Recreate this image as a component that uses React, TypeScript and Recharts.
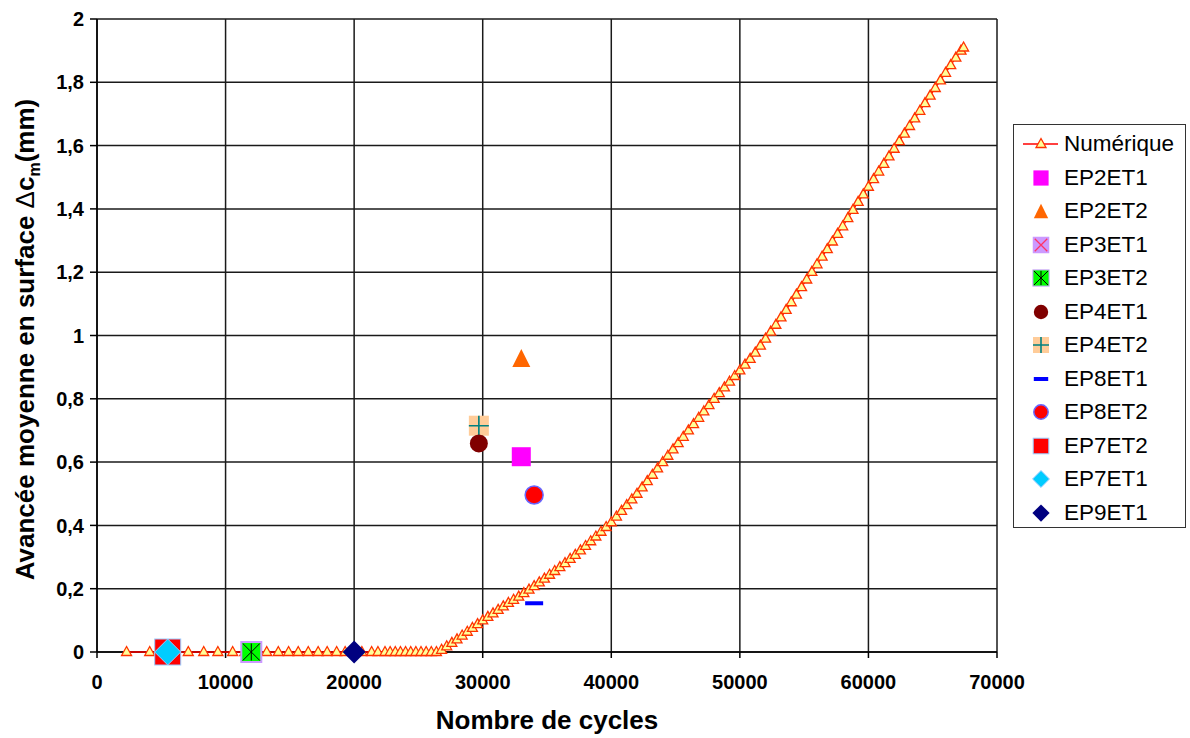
import React from 'react';
import { ScatterChart, Scatter, XAxis, YAxis, CartesianGrid, Legend } from 'recharts';

const FONT = '"Liberation Sans", Arial, Helvetica, sans-serif';

// Numerical simulation curve (cycles, mean surface advance in mm)
const numCycles = [
  2300, 4100, 5600, 7100, 8300, 9400, 10550, 11500, 12300, 13200, 14100, 14900, 15650, 16430, 17200, 17900,
  18640, 19300, 19950, 20600, 21360, 21850, 22400, 22800, 23200, 23600, 24000, 24400, 24800, 25200, 25600,
  26000, 26400,
  26800, 27200, 27600, 28000, 28400, 28800, 29200, 29600, 30000, 30400, 30800, 31200, 31600, 32000, 32400,
  32800, 33200, 33600, 34000, 34400, 34800, 35200, 35600, 36000, 36400, 36800, 37200, 37600, 38000, 38400,
  38800, 39200, 39600, 40000, 40400, 40800, 41200, 41600, 42000, 42400, 42800, 43200, 43600, 44000, 44400,
  44800, 45200, 45600, 46000, 46400, 46800, 47200, 47600, 48000, 48400, 48800, 49200, 49600, 50000, 50400,
  50800, 51200, 51600, 52000, 52400, 52800, 53200, 53600, 54000, 54400, 54800, 55200, 55600, 56000, 56400,
  56800, 57200, 57600, 58000, 58400, 58800, 59200, 59600, 60000, 60400, 60800, 61200, 61600, 62000, 62400,
  62800, 63200, 63600, 64000, 64400, 64800, 65200, 65600, 66000, 66400, 66800, 67200, 67400,
];
const numAdvance = [
  0, 0, 0, 0, 0, 0, 0, 0, 0, 0, 0, 0, 0, 0, 0, 0,
  0, 0, 0, 0, 0, 0, 0, 0, 0, 0, 0, 0, 0, 0, 0,
  0, 0,
  0.007, 0.018, 0.029, 0.04, 0.052, 0.064, 0.076, 0.088, 0.1, 0.111, 0.122, 0.133, 0.144, 0.155, 0.165,
  0.175, 0.186, 0.197, 0.208, 0.22, 0.232, 0.244, 0.256, 0.268, 0.281, 0.294, 0.307, 0.321, 0.335, 0.35,
  0.365, 0.38, 0.395, 0.41, 0.428, 0.446, 0.464, 0.482, 0.5, 0.52, 0.54, 0.56, 0.58, 0.6, 0.62,
  0.64, 0.66, 0.68, 0.7, 0.72, 0.74, 0.76, 0.78, 0.8, 0.818, 0.836, 0.854, 0.872, 0.89, 0.908,
  0.926, 0.946, 0.968, 0.99, 1.012, 1.034, 1.057, 1.081, 1.105, 1.129, 1.153, 1.177, 1.201, 1.225, 1.249,
  1.273, 1.297, 1.321, 1.345, 1.371, 1.397, 1.422, 1.446, 1.47, 1.494, 1.518, 1.542, 1.566, 1.59, 1.614,
  1.638, 1.662, 1.686, 1.71, 1.734, 1.758, 1.782, 1.806, 1.83, 1.854, 1.878, 1.9, 1.91,
];

// Experimental points
const ep2et1 = [{ x: 33000, y: 0.617 }];
const ep2et2 = [{ x: 33000, y: 0.929 }];
const ep3et1 = [{ x: 12000, y: 0 }];
const ep3et2 = [{ x: 12000, y: 0 }];
const ep4et1 = [{ x: 29700, y: 0.659 }];
const ep4et2 = [{ x: 29700, y: 0.715 }];
const ep8et1 = [{ x: 34000, y: 0.154 }];
const ep8et2 = [{ x: 34000, y: 0.496 }];
const ep7et2 = [{ x: 5500, y: 0 }];
const ep7et1 = [{ x: 5500, y: 0 }];
const ep9et1 = [{ x: 20000, y: 0 }];

const xTicks = [0, 10000, 20000, 30000, 40000, 50000, 60000, 70000];
const yTicks = [0, 0.2, 0.4, 0.6, 0.8, 1, 1.2, 1.4, 1.6, 1.8, 2];

const seriesNames = ['Numérique', 'EP2ET1', 'EP2ET2', 'EP3ET1', 'EP3ET2', 'EP4ET1', 'EP4ET2', 'EP8ET1', 'EP8ET2', 'EP7ET2', 'EP7ET1', 'EP9ET1'];

const numData = numCycles.map((c, i) => ({ x: c, y: numAdvance[i] }));

// ---------- marker shapes ----------
type P = { cx: number; cy: number; s?: number };

const Tri = ({ cx, cy }: P) => (
  <polygon points={`${cx},${cy - 5.5} ${cx + 5},${cy + 3.5} ${cx - 5},${cy + 3.5}`} fill="#ffff99" stroke="#ff3300" strokeWidth={1.3} />
);
const Sq = ({ cx, cy, s = 18, fill, stroke }: P & { fill: string; stroke?: string }) => (
  <rect x={cx - s / 2} y={cy - s / 2} width={s} height={s} fill={fill} stroke={stroke || 'none'} strokeWidth={1} />
);
const BigTri = ({ cx, cy, s = 18 }: P) => (
  <polygon points={`${cx},${cy - s / 2} ${cx + s / 2},${cy + s / 2} ${cx - s / 2},${cy + s / 2}`} fill="#ff6600" />
);
const XSq = ({ cx, cy, s = 22 }: P) => {
  const h = s / 2;
  return (
    <g>
      <rect x={cx - h} y={cy - h} width={s} height={s} fill="#cc99ff" />
      <path d={`M${cx - h + 2},${cy - h + 2}L${cx + h - 2},${cy + h - 2}M${cx + h - 2},${cy - h + 2}L${cx - h + 2},${cy + h - 2}`} stroke="#ff3366" strokeWidth={1.3} />
    </g>
  );
};
const StarSq = ({ cx, cy, s = 19 }: P) => {
  const h = s / 2;
  return (
    <g>
      <rect x={cx - h} y={cy - h} width={s} height={s} fill="#00ff00" stroke="#cc99ff" strokeWidth={1} />
      <path d={`M${cx - h + 1},${cy - h + 1}L${cx + h - 1},${cy + h - 1}M${cx + h - 1},${cy - h + 1}L${cx - h + 1},${cy + h - 1}M${cx},${cy - h + 1}L${cx},${cy + h - 1}`} stroke="#000" strokeWidth={1} />
    </g>
  );
};
const Circ = ({ cx, cy, s = 18, fill, stroke }: P & { fill: string; stroke?: string }) => (
  <circle cx={cx} cy={cy} r={s / 2} fill={fill} stroke={stroke || 'none'} strokeWidth={1.5} />
);
const PlusSq = ({ cx, cy, s = 20 }: P) => {
  const h = s / 2;
  return (
    <g>
      <rect x={cx - h} y={cy - h} width={s} height={s} fill="#ffcc99" />
      <path d={`M${cx - h},${cy}L${cx + h},${cy}M${cx},${cy - h}L${cx},${cy + h}`} stroke="#008080" strokeWidth={1.6} />
    </g>
  );
};
const Dash = ({ cx, cy, s = 18 }: P) => <rect x={cx - s / 2} y={cy - 2} width={s} height={4} fill="#0000ff" />;
const Diam = ({ cx, cy, s = 22, fill, stroke }: P & { fill: string; stroke?: string }) => {
  const h = s / 2;
  return <polygon points={`${cx},${cy - h} ${cx + h},${cy} ${cx},${cy + h} ${cx - h},${cy}`} fill={fill} stroke={stroke || 'none'} strokeWidth={1} />;
};

const markerFor = (name: string, cx: number, cy: number, legend = false) => {
  const k = legend ? 0.8 : 1;
  switch (name) {
    case 'Numérique':
      return <Tri cx={cx} cy={cy} />;
    case 'EP2ET1':
      return <Sq cx={cx} cy={cy} s={19 * k} fill="#ff00ff" />;
    case 'EP2ET2':
      return <BigTri cx={cx} cy={cy} s={18 * k} />;
    case 'EP3ET1':
      return <XSq cx={cx} cy={cy} s={22 * (legend ? 0.75 : 1)} />;
    case 'EP3ET2':
      return <StarSq cx={cx} cy={cy} s={19 * (legend ? 0.85 : 1)} />;
    case 'EP4ET1':
      return <Circ cx={cx} cy={cy} s={18 * k} fill="#800000" />;
    case 'EP4ET2':
      return <PlusSq cx={cx} cy={cy} s={20 * k} />;
    case 'EP8ET1':
      return <Dash cx={cx} cy={cy} s={18 * k} />;
    case 'EP8ET2':
      return <Circ cx={cx} cy={cy} s={18 * k} fill="#ff0000" stroke="#6666ff" />;
    case 'EP7ET2':
      return <Sq cx={cx} cy={cy} s={26 * (legend ? 0.6 : 1)} fill="#ff0000" stroke="#99ccff" />;
    case 'EP7ET1':
      return <Diam cx={cx} cy={cy} s={26 * (legend ? 0.65 : 1)} fill="#00ccff" stroke="#99ccff" />;
    case 'EP9ET1':
      return <Diam cx={cx} cy={cy} s={23 * (legend ? 0.75 : 1)} fill="#000080" />;
    default:
      return null;
  }
};

const shapeOf = (name: string) => (p: any) => markerFor(name, p.cx, p.cy);

// ---------- legend ----------
const LegendBox = () => (
  <div
    style={{
      width: 173,
      height: 404,
      boxSizing: 'border-box',
      border: '1.5px solid #333',
      background: '#fff',
      position: 'relative',
      fontFamily: FONT,
    }}
  >
    {seriesNames.map((n, i) => {
      const cy = 19 + i * 33.5;
      return (
        <div key={n} style={{ position: 'absolute', left: 0, top: cy - 16, height: 32, width: 172, display: 'flex', alignItems: 'center' }}>
          <svg width={50} height={32} style={{ display: 'block' }}>
            {n === 'Numérique' ? <line x1={9} y1={16} x2={44} y2={16} stroke="#ff0000" strokeWidth={1.3} /> : null}
            {markerFor(n, 27, 16, true)}
          </svg>
          <span style={{ fontSize: 22.5, color: '#000', whiteSpace: 'nowrap', lineHeight: '32px' }}>{n}</span>
        </div>
      );
    })}
  </div>
);

// ---------- titles ----------
const XTitle = (props: any) => {
  const vb = props.viewBox || { x: 97, width: 900, y: 652, height: 0 };
  return (
    <text x={vb.x + vb.width / 2} y={729} textAnchor="middle" fontFamily={FONT} fontWeight="bold" fontSize={26} fill="#000">
      Nombre de cycles
    </text>
  );
};
const YTitle = (props: any) => {
  const vb = props.viewBox || { x: 0, y: 19, width: 97, height: 633 };
  const cy = vb.y + vb.height / 2 + 4;
  const x = 34;
  return (
    <text transform={`rotate(-90, ${x}, ${cy})`} x={x} y={cy} textAnchor="middle" fontFamily={FONT} fontWeight="bold" fontSize={26} fill="#000">
      Avancée moyenne en surface <tspan fontWeight="normal">Δ</tspan>c<tspan fontSize={16} dy={6}>m</tspan><tspan dy={-6}>(mm)</tspan>
    </text>
  );
};

const tickStyle = { fontFamily: FONT, fontWeight: 'bold' as const, fontSize: 20, fill: '#000' };

export default function App() {
  return (
    <div style={{ position: 'absolute', left: 0, top: 0, width: 1190, height: 738, background: '#fff' }}>
      <ScatterChart width={1190} height={738} margin={{ top: 19, right: 193, bottom: 46, left: 0 }}>
        <CartesianGrid stroke="#1a1a1a" strokeWidth={1.5} horizontalValues={yTicks} verticalValues={xTicks} />
        <XAxis
          type="number"
          dataKey="x"
          domain={[0, 70000]}
          ticks={xTicks}
          interval={0}
          height={40}
          tickSize={6}
          tickMargin={17}
          axisLine={{ stroke: '#000', strokeWidth: 1.5 }}
          tickLine={{ stroke: '#000', strokeWidth: 1.5 }}
          tick={tickStyle}
          label={{ content: XTitle }}
        />
        <YAxis
          type="number"
          dataKey="y"
          domain={[0, 2]}
          ticks={yTicks}
          interval={0}
          width={97}
          tickSize={7}
          tickMargin={6}
          axisLine={{ stroke: '#000', strokeWidth: 1.5 }}
          tickLine={{ stroke: '#000', strokeWidth: 1.5 }}
          tick={tickStyle}
          tickFormatter={(v: number) => String(v).replace('.', ',')}
          label={{ content: YTitle }}
        />
        <Legend
          layout="vertical"
          align="center"
          verticalAlign="middle"
          wrapperStyle={{ left: 1013, top: 124, width: 173, height: 404 }}
          content={() => <LegendBox />}
        />
        <Scatter name="Numérique" data={numData} line={{ stroke: '#ff0000', strokeWidth: 1.3 }} lineJointType="linear" shape={shapeOf('Numérique')} isAnimationActive={false} />
        <Scatter name="EP3ET1" data={ep3et1} shape={shapeOf('EP3ET1')} isAnimationActive={false} />
        <Scatter name="EP3ET2" data={ep3et2} shape={shapeOf('EP3ET2')} isAnimationActive={false} />
        <Scatter name="EP7ET2" data={ep7et2} shape={shapeOf('EP7ET2')} isAnimationActive={false} />
        <Scatter name="EP7ET1" data={ep7et1} shape={shapeOf('EP7ET1')} isAnimationActive={false} />
        <Scatter name="EP9ET1" data={ep9et1} shape={shapeOf('EP9ET1')} isAnimationActive={false} />
        <Scatter name="EP2ET1" data={ep2et1} shape={shapeOf('EP2ET1')} isAnimationActive={false} />
        <Scatter name="EP2ET2" data={ep2et2} shape={shapeOf('EP2ET2')} isAnimationActive={false} />
        <Scatter name="EP4ET2" data={ep4et2} shape={shapeOf('EP4ET2')} isAnimationActive={false} />
        <Scatter name="EP4ET1" data={ep4et1} shape={shapeOf('EP4ET1')} isAnimationActive={false} />
        <Scatter name="EP8ET1" data={ep8et1} shape={shapeOf('EP8ET1')} isAnimationActive={false} />
        <Scatter name="EP8ET2" data={ep8et2} shape={shapeOf('EP8ET2')} isAnimationActive={false} />
      </ScatterChart>
    </div>
  );
}
